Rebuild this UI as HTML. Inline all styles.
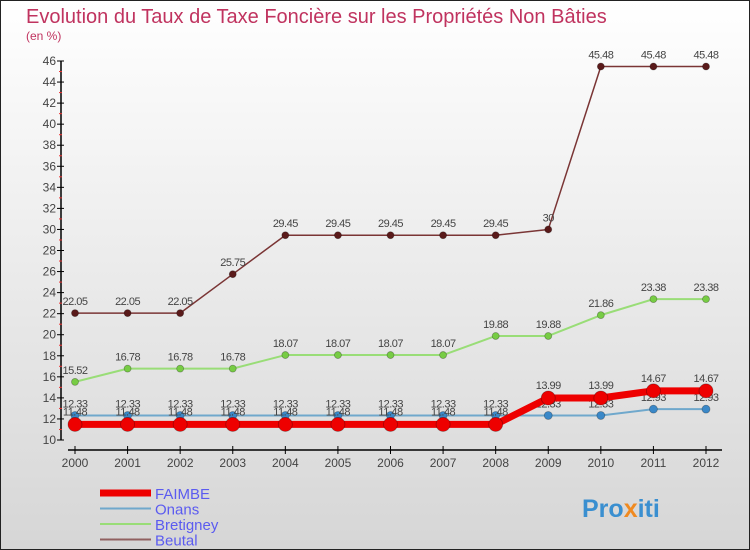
<!DOCTYPE html>
<html><head><meta charset="utf-8"><style>
body{margin:0}
#c{width:750px;height:550px;position:relative;overflow:hidden;font-family:"Liberation Sans",sans-serif}
</style></head><body>
<div id="c">
<svg id="s" width="750" height="550" xmlns="http://www.w3.org/2000/svg">
<defs><linearGradient id="bg" x1="0" y1="0" x2="0" y2="1"><stop offset="0" stop-color="#ffffff"/><stop offset="1" stop-color="#d6d6d6"/></linearGradient></defs>
<rect x="0.5" y="0.5" width="749" height="549" fill="url(#bg)" stroke="#222"/>
<text x="26" y="23" font-size="20" fill="#c0335f">Evolution du Taux de Taxe Foncière sur les Propriétés Non Bâties</text>
<text x="26" y="40" font-size="12" fill="#c0335f">(en %)</text>
<g id="axes"></g><g id="series"></g><g id="legend"></g>
<text x="582" y="517" font-size="25" font-weight="bold" fill="#3a8fd0">Pro<tspan fill="#f08a20">x</tspan>iti</text>
</svg></div>
<script>
const years=[2000,2001,2002,2003,2004,2005,2006,2007,2008,2009,2010,2011,2012];
const faimbe=[11.48,11.48,11.48,11.48,11.48,11.48,11.48,11.48,11.48,13.99,13.99,14.67,14.67];
const onans=[12.33,12.33,12.33,12.33,12.33,12.33,12.33,12.33,12.33,12.33,12.33,12.93,12.93];
const bretigney=[15.52,16.78,16.78,16.78,18.07,18.07,18.07,18.07,19.88,19.88,21.86,23.38,23.38];
const beutal=[22.05,22.05,22.05,25.75,29.45,29.45,29.45,29.45,29.45,30,45.48,45.48,45.48];
const yTicks=[10,12,14,16,18,20,22,24,26,28,30,32,34,36,38,40,42,44,46];
const NS="http://www.w3.org/2000/svg";
const X=i=>75+i*(706-75)/(years.length-1);
const Y=v=>440-(v-10)*(440-61)/36;
function mk(t,a,p){const e=document.createElementNS(NS,t);for(const k in a)e.setAttribute(k,a[k]);p.appendChild(e);return e;}
const ax=document.getElementById('axes');
let yl=mk('line',{x1:61,y1:Y(46),x2:61,y2:Y(10),stroke:'#000','stroke-width':1.5},ax);


yTicks.forEach((v,k)=>{
 mk('line',{x1:57,y1:Y(v),x2:64,y2:Y(v),stroke:'#000'},ax);
 if(k<yTicks.length-1) mk('line',{x1:59,y1:Y(v+1),x2:62,y2:Y(v+1),stroke:'#e33'},ax);
 const t=mk('text',{x:56,y:Y(v)+4,'font-size':12,'text-anchor':'end',fill:'#444'},ax);t.textContent=v;
 
 
});
let xl=mk('line',{x1:68,y1:450,x2:722,y2:450,stroke:'#000','stroke-width':1.5},ax);


years.forEach((y,i)=>{
 mk('line',{x1:X(i),y1:446,x2:X(i),y2:454,stroke:'#000'},ax);
 const t=mk('text',{x:X(i),y:467,'font-size':12,'text-anchor':'middle',fill:'#444'},ax);t.textContent=y;
 
 
});
const sg=document.getElementById('series');
function draw(name,vals,col,w,r,dot,lblDy){
 const g=mk('g',{},sg);
 
 
 mk('polyline',{points:vals.map((v,i)=>X(i)+','+Y(v)).join(' '),fill:'none',stroke:col,'stroke-width':w,'stroke-linejoin':'round'},g);
 vals.forEach((v,i)=>{
  const c=mk('circle',{cx:X(i),cy:Y(v),r:r,fill:dot,stroke:'rgba(0,0,0,0.3)','stroke-width':0.8},g);
  
  
  const t=mk('text',{x:X(i),y:Y(v)+lblDy,'font-size':11,'text-anchor':'middle',fill:'#444','letter-spacing':'-0.5'},g);t.textContent=v;
  
  
 });
}
draw('beutal',beutal,'#7a3535',1.5,3.5,'#5a1a1a',-8);
draw('bretigney',bretigney,'#99dd77',2,3.5,'#77cc44',-8);
draw('onans',onans,'#6fa8cc',2,4,'#3a88c8',-8);
draw('faimbe',faimbe,'#ee0000',7,7,'#ee0000',-9);
const lg=document.getElementById('legend');
[['FAIMBE','#ee0000',7],['Onans','#6fa8cc',2],['Bretigney','#99dd77',2],['Beutal','#906060',2]].forEach((d,i)=>{
 const y=493+i*15.5;
 mk('line',{x1:100,y1:y,x2:151,y2:y,stroke:d[1],'stroke-width':d[2]},lg);
 const t=mk('text',{x:155,y:y+6,'font-size':15,fill:'#5b5bf0'},lg);t.textContent=d[0];
 
 
});
</script>
</body></html>
